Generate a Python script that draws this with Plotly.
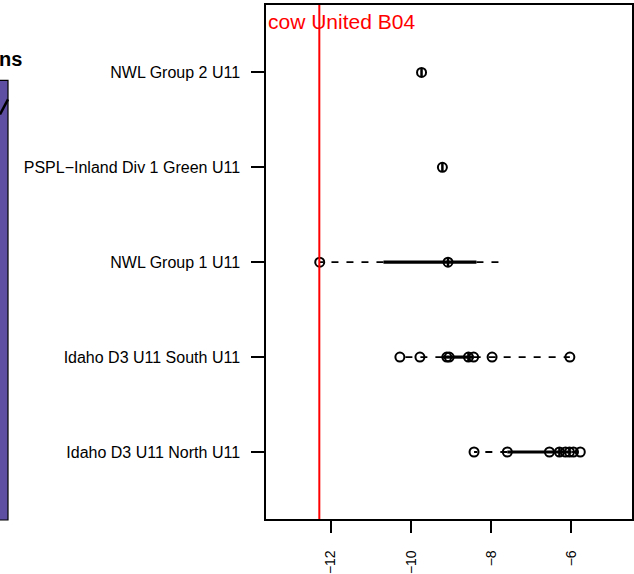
import plotly.graph_objects as go

# ---- data ----
categories = ["Idaho D3 U11 North U11", "Idaho D3 U11 South U11", "NWL Group 1 U11",
              "PSPL−Inland Div 1 Green U11", "NWL Group 2 U11"]
points = [
    [-8.43, -7.6, -6.55, -6.3, -6.15, -6.05, -5.95, -5.78],
    [-10.28, -9.78, -9.11, -9.05, -8.57, -8.44, -7.98, -6.04],
    [-12.28, -9.08],
    [-9.22],
    [-9.74],
]
whisker_lo = [-8.43, -10.28, -12.28, -9.22, -9.74]
box_q1 = [-7.6, -9.22, -10.69, -9.22, -9.74]
box_median = [-6.3, -8.57, -9.08, -9.22, -9.74]
box_q3 = [-6.0, -8.44, -8.37, -9.22, -9.74]
whisker_hi = [-5.78, -6.04, -7.65, -9.22, -9.74]
ref_value = -12.29
ref_label = "cow United B04"
tick_vals = [-12, -10, -8, -6]
tick_text = ["−12", "−10", "−8", "−6"]
left_title = "ns"

FONT = "Liberation Sans, Arial, sans-serif"
fig = go.Figure()

for i, cat in enumerate(categories):
    y = i + 1
    # whiskers (drawn from box outward)
    for a, b in ((box_q1[i], whisker_lo[i]), (box_q3[i], whisker_hi[i])):
        if a != b:
            fig.add_trace(go.Scatter(x=[a, b], y=[y, y], mode="lines",
                                     line=dict(color="black", width=1.8, dash="7px,8px"),
                                     showlegend=False, hoverinfo="skip"))
    # box
    if box_q1[i] != box_q3[i]:
        fig.add_trace(go.Scatter(x=[box_q1[i], box_q3[i]], y=[y, y], mode="lines",
                                 line=dict(color="black", width=3.2),
                                 showlegend=False, hoverinfo="skip"))
    # median
    fig.add_trace(go.Scatter(x=[box_median[i]], y=[y], mode="markers",
                             marker=dict(symbol="line-ns-open", size=6, color="black",
                                         line=dict(color="black", width=2.5)),
                             showlegend=False, hoverinfo="skip"))
    # points
    fig.add_trace(go.Scatter(x=points[i], y=[y] * len(points[i]), mode="markers",
                             marker=dict(symbol="circle-open", size=9, color="black",
                                         line=dict(color="black", width=2)),
                             showlegend=False))

# reference line
fig.add_trace(go.Scatter(x=[ref_value, ref_value], y=[0.294, 5.71], mode="lines",
                         line=dict(color="#FF0000", width=2), showlegend=False,
                         hoverinfo="skip"))

L, R, T, B = 266, 632, 4.5, 519
W, H = 634, 574
def px(x):
    return (x - L) / (R - L)
def py(y):
    return (B - y) / (B - T)

shapes = [
    dict(type="rect", xref="paper", yref="paper", x0=px(-20), x1=px(8),
         y0=py(520), y1=py(80), fillcolor="#5E4FA2", line=dict(color="black", width=1.2),
         layer="above"),
    dict(type="line", xref="paper", yref="paper", x0=px(0), y0=py(114), x1=px(8), y1=py(99),
         line=dict(color="black", width=2.5), layer="above"),
]

annotations = [
    dict(text=ref_label, xref="paper", yref="paper", x=px(266), y=py(35),
         xanchor="left", yanchor="bottom", showarrow=False,
         font=dict(family=FONT, size=21, color="#FF0000")),
    dict(text="<b>" + left_title + "</b>", xref="paper", yref="paper", x=px(24), y=py(72),
         xanchor="right", yanchor="bottom", showarrow=False,
         font=dict(family=FONT, size=20, color="black")),
]

fig.update_layout(
    width=W, height=H,
    margin=dict(l=L, r=W - R, t=T, b=H - B, autoexpand=False),
    plot_bgcolor="white", paper_bgcolor="white",
    shapes=shapes, annotations=annotations,
    font=dict(family=FONT, color="black"),
    xaxis=dict(range=[-13.62, -4.49], tickvals=tick_vals, ticktext=tick_text,
               tickangle=-90, ticks="outside", ticklen=12, tickwidth=1.5, tickcolor="black",
               showline=True, mirror=True, linecolor="black", linewidth=1.5,
               showgrid=False, zeroline=False, tickfont=dict(size=14, family=FONT),
               ticklabelstandoff=12),
    yaxis=dict(range=[0.294, 5.71], tickvals=[1, 2, 3, 4, 5], ticktext=categories,
               ticks="outside", ticklen=13, tickwidth=1.5, tickcolor="black",
               showline=True, mirror=True, linecolor="black", linewidth=1.5,
               showgrid=False, zeroline=False, tickfont=dict(size=16, family=FONT),
               ticklabelstandoff=8),
)

fig.write_html("out.html", config={"displayModeBar": False},
               post_script="document.body.style.margin='0';document.body.style.padding='0';")
